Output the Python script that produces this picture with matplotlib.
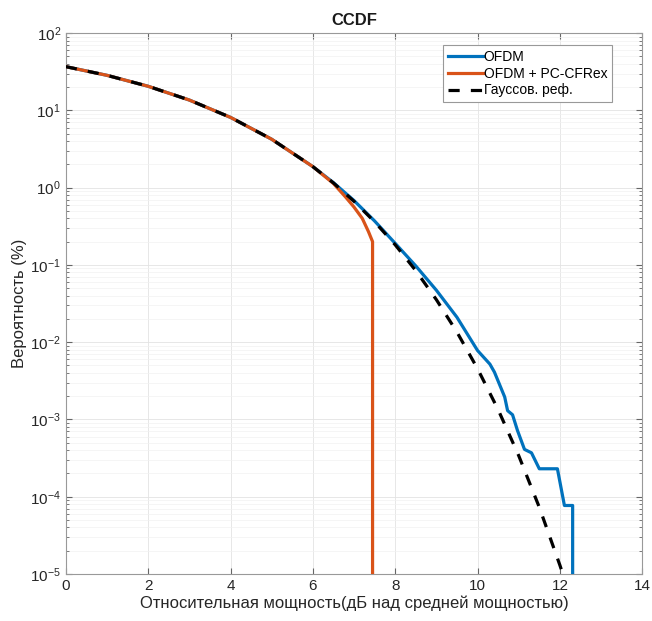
import matplotlib
matplotlib.use("Agg")
import matplotlib.pyplot as plt
from matplotlib.ticker import FixedLocator, NullFormatter

plt.rcParams['font.family'] = ['Liberation Sans', 'DejaVu Sans']
plt.rcParams['mathtext.default'] = 'regular'

# Gaussian reference
gauss_x = [0, 1, 2, 3, 4, 5, 6, 6.5, 7, 7.5, 8, 8.5, 9, 9.5, 10, 10.5, 11, 11.5, 12, 12.1]
gauss_y = [36.8, 28.4, 20.5, 13.6, 8.11, 4.23, 1.87, 1.15, 0.665, 0.361, 0.182, 0.0843,
           0.0355, 0.0135, 0.00454, 0.00134, 3.4e-4, 7.3e-5, 1.3e-5, 9e-6]

# OFDM
ofdm_x = [0, 1, 2, 3, 4, 5, 6, 6.5, 7, 7.5, 8, 8.5, 9, 9.5, 10, 10.3, 10.41, 10.66, 10.73,
          10.85, 10.97, 11.14, 11.31, 11.5, 11.94, 12.11, 12.31, 12.31]
ofdm_y = [36.8, 28.4, 20.5, 13.6, 8.11, 4.23, 1.87, 1.16, 0.68, 0.37, 0.19, 0.097, 0.047,
          0.021, 0.0078, 0.0052, 0.0041, 0.00195, 0.0013, 0.00115, 0.00072, 0.00041,
          0.00037, 0.00023, 0.00023, 7.7e-5, 7.7e-5, 1e-7]

# OFDM + PC-CFRex
cfr_x = [0, 1, 2, 3, 4, 5, 6, 6.5, 6.8, 7.0, 7.2, 7.35, 7.45, 7.45]
cfr_y = [36.8, 28.4, 20.5, 13.6, 8.11, 4.23, 1.87, 1.13, 0.75, 0.56, 0.40, 0.27, 0.2, 1e-7]

xticks = [0, 2, 4, 6, 8, 10, 12, 14]
yticks = [1e-5, 1e-4, 1e-3, 1e-2, 1e-1, 1e0, 1e1, 1e2]
ytick_labels = [r'$10^{-5}$', r'$10^{-4}$', r'$10^{-3}$', r'$10^{-2}$', r'$10^{-1}$',
                r'$10^{0}$', r'$10^{1}$', r'$10^{2}$']

fig = plt.figure(figsize=(6.52, 6.21), dpi=100)
ax = fig.add_axes([0.101, 0.0757, 0.884, 0.871])

ax.plot(ofdm_x, ofdm_y, color='#0072BD', lw=2.3, label='OFDM', zorder=3)
ax.plot(cfr_x, cfr_y, color='#D95319', lw=2.3, label='OFDM + PC-CFRex', zorder=3)
ax.plot(gauss_x, gauss_y, color='black', lw=2.3, ls=(0, (3.5, 3.5)), label='Гауссов. реф.', zorder=4)

ax.set_yscale('log')
ax.set_xlim(0, 14)
ax.set_ylim(1e-5, 1e2)
ax.set_xticks(xticks)
ax.set_yticks(yticks)
ax.set_yticklabels(ytick_labels)
minor = [m * 10.0 ** e for e in range(-5, 2) for m in range(2, 10)]
ax.yaxis.set_minor_locator(FixedLocator(minor))
ax.yaxis.set_minor_formatter(NullFormatter())

ax.grid(True, which='major', color='#e3e3e3', lw=0.6)
ax.grid(True, which='minor', axis='y', color='#f1f1f1', lw=0.5)
ax.tick_params(direction='in', which='both', top=True, right=True, colors='#666666',
               labelcolor='#262626', labelsize=11)
ax.tick_params(which='major', length=4)
ax.tick_params(which='minor', length=2)
for s in ax.spines.values():
    s.set_color('#999999')
    s.set_linewidth(0.8)

ax.set_title('CCDF', fontsize=12, fontweight='bold', color='#1a1a1a', pad=6)
ax.set_xlabel('Относительная мощность(дБ над средней мощностью)', fontsize=12,
              color='#262626', labelpad=2)
ax.set_ylabel('Вероятность (%)', fontsize=12, color='#262626', labelpad=2)

leg = ax.legend(loc='upper right', bbox_to_anchor=(0.948, 0.978), fontsize=10,
                handlelength=2.5, handletextpad=0.05, borderpad=0.35, labelspacing=0.2,
                borderaxespad=0, fancybox=False, framealpha=1, edgecolor='#999999')
leg.get_frame().set_linewidth(0.8)

fig.savefig('out.png', dpi=100)
